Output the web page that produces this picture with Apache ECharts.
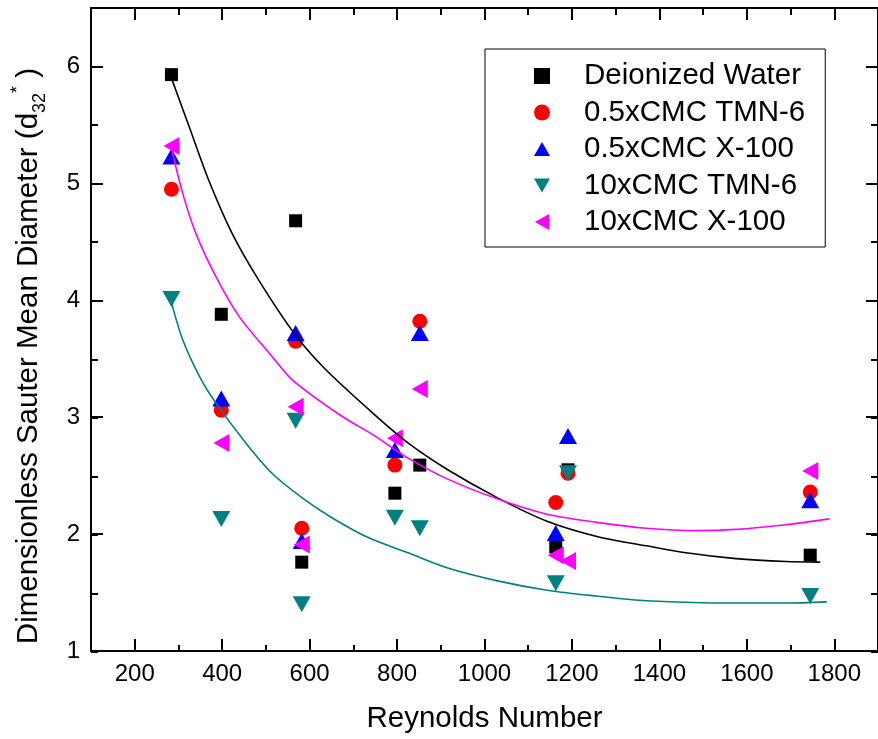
<!DOCTYPE html>
<html>
<head>
<meta charset="utf-8">
<script src="https://cdn.jsdelivr.net/npm/echarts@6/dist/echarts.min.js"></script>
<style>
  html, body { margin: 0; padding: 0; background: #fff; }
  #chart { width: 878px; height: 739px; }
</style>
</head>
<body>
<div id="chart"></div>
<script>
// ---------- data ----------
const reynolds = [284, 398, 568, 582, 795, 852, 1163, 1191, 1745];
const deionizedWater = [5.93, 3.88, 4.68, 1.76, 2.35, 2.59, 1.89, 2.55, 1.82];
const tmn6Half = [4.95, 3.06, 3.65, 2.05, 2.59, 3.82, 2.27, 2.52, 2.36];
const x100Half = [5.23, 3.16, 3.72, 1.94, 2.72, 3.72, 2.01, 2.84, 2.29];
const tmn6Ten = [4.01, 2.13, 2.97, 1.40, 2.14, 2.05, 1.58, 2.52, 1.47];
const x100Ten = [5.32, 2.78, 3.09, 1.91, 2.82, 3.24, 1.82, 1.77, 2.54];

const seriesNames = ['Deionized Water', '0.5xCMC TMN-6', '0.5xCMC X-100', '10xCMC TMN-6', '10xCMC X-100'];

// fitted curves
const blackFitX = [284, 325, 370, 423, 484, 568, 636, 749, 825, 916, 1030, 1143, 1257, 1370, 1461, 1575, 1689, 1768];
const blackFitY = [5.90, 5.48, 5.02, 4.57, 4.17, 3.70, 3.41, 3.02, 2.78, 2.55, 2.31, 2.11, 1.98, 1.90, 1.84, 1.79, 1.765, 1.76];
const magentaFitX = [284, 310, 340, 386, 439, 514, 560, 673, 749, 825, 916, 1030, 1143, 1257, 1370, 1484, 1575, 1689, 1789];
const magentaFitY = [5.30, 4.91, 4.57, 4.20, 3.86, 3.52, 3.32, 3.01, 2.84, 2.65, 2.47, 2.30, 2.17, 2.10, 2.05, 2.03, 2.04, 2.08, 2.13];
const tealFitX = [284, 310, 348, 386, 454, 514, 583, 651, 734, 825, 916, 1030, 1143, 1257, 1370, 1575, 1689, 1783];
const tealFitY = [3.98, 3.66, 3.35, 3.12, 2.78, 2.52, 2.31, 2.14, 1.97, 1.84, 1.71, 1.60, 1.52, 1.47, 1.43, 1.41, 1.41, 1.42];

const xMajorTicks = [200, 400, 600, 800, 1000, 1200, 1400, 1600, 1800];
const xMinorTicks = [100, 300, 500, 700, 900, 1100, 1300, 1500, 1700, 1900];

// ---------- helpers ----------
const zip = (xs, ys) => xs.map((x, i) => [x, ys[i]]);
const FONT = '"Liberation Sans", Arial, Helvetica, sans-serif';
const axisLineStyle = { color: '#000', width: 2 };

const gridBox = { left: 91, top: 8, right: -5, bottom: 87 };

const chart = echarts.init(document.getElementById('chart'), null, { renderer: 'canvas' });

function scatter(idx, symbol, size, rotate, color, values) {
  return {
    name: seriesNames[idx], type: 'scatter', xAxisIndex: 0, yAxisIndex: 0,
    symbol: symbol, symbolSize: size, symbolRotate: rotate,
    itemStyle: { color: color, opacity: 1 },
    emphasis: { disabled: true },
    data: zip(reynolds, values), z: 2
  };
}
function fit(name, color, xs, ys) {
  return {
    name: name, type: 'line', xAxisIndex: 0, yAxisIndex: 0, showSymbol: false, symbol: 'none',
    smooth: 0.3,
    lineStyle: { color: color, width: 1.6 }, emphasis: { disabled: true },
    data: zip(xs, ys), z: 3
  };
}

const legendIcons = [
  'rect',
  'circle',
  'path://M9,0 L18,16 L0,16 Z',
  'path://M0,0 L18,0 L9,16 Z',
  'path://M0,9 L16,0 L16,18 Z'
];

const option = {
  backgroundColor: '#fff',
  animation: false,
  textStyle: { fontFamily: FONT },
  grid: [
    Object.assign({}, gridBox),
    Object.assign({}, gridBox)
  ],
  xAxis: [
    {
      gridIndex: 0, type: 'value', position: 'bottom', min: 100, max: 1900,
      name: 'Reynolds Number', nameLocation: 'middle', nameGap: 53,
      nameTextStyle: { fontFamily: FONT, fontSize: 29.5, color: '#000' },
      axisLine: { show: true, lineStyle: axisLineStyle },
      axisTick: { show: true, inside: true, length: 12, lineStyle: { color: '#000', width: 2 }, customValues: xMajorTicks },
      axisLabel: { show: true, fontFamily: FONT, fontSize: 24, color: '#000', margin: 11, customValues: xMajorTicks,
        formatter: v => String(v) },
      splitLine: { show: false }
    },
    {
      gridIndex: 0, type: 'value', position: 'top', min: 100, max: 1900,
      axisLine: { show: true, lineStyle: axisLineStyle },
      axisTick: { show: true, inside: true, length: 12, lineStyle: { color: '#000', width: 2 }, customValues: xMajorTicks },
      axisLabel: { show: false },
      splitLine: { show: false }
    },
    {
      gridIndex: 1, type: 'value', position: 'bottom', min: 100, max: 1900, interval: 100,
      axisLine: { show: false },
      axisTick: { show: true, inside: true, length: 7, lineStyle: { color: '#000', width: 2 }, customValues: xMinorTicks },
      axisLabel: { show: false },
      splitLine: { show: false }
    },
    {
      gridIndex: 1, type: 'value', position: 'top', min: 100, max: 1900, interval: 100,
      axisLine: { show: false },
      axisTick: { show: true, inside: true, length: 7, lineStyle: { color: '#000', width: 2 }, customValues: xMinorTicks },
      axisLabel: { show: false },
      splitLine: { show: false }
    }
  ],
  yAxis: [
    {
      gridIndex: 0, type: 'value', position: 'left', min: 1, max: 6.5, interval: 1,
      axisLine: { show: true, lineStyle: axisLineStyle },
      axisTick: { show: true, inside: true, length: 12, lineStyle: { color: '#000', width: 2 } },
      axisLabel: { show: true, fontFamily: FONT, fontSize: 24, color: '#000', margin: 11, showMaxLabel: false },
      splitLine: { show: false }
    },
    {
      gridIndex: 0, type: 'value', position: 'right', min: 1, max: 6.5, interval: 1,
      axisLine: { show: true, lineStyle: axisLineStyle },
      axisTick: { show: true, inside: true, length: 12, lineStyle: { color: '#000', width: 2 } },
      axisLabel: { show: false },
      splitLine: { show: false }
    },
    {
      gridIndex: 1, type: 'value', position: 'left', min: 1, max: 6.5, interval: 0.5,
      axisLine: { show: false },
      axisTick: { show: true, inside: true, length: 7, lineStyle: { color: '#000', width: 2 } },
      axisLabel: { show: false },
      splitLine: { show: false }
    },
    {
      gridIndex: 1, type: 'value', position: 'right', min: 1, max: 6.5, interval: 0.5,
      axisLine: { show: false },
      axisTick: { show: true, inside: true, length: 7, lineStyle: { color: '#000', width: 2 } },
      axisLabel: { show: false },
      splitLine: { show: false }
    }
  ],
  legend: {
    show: true,
    orient: 'vertical',
    left: 485, top: 49,
    padding: [12, 20, 10, 49],
    itemWidth: 16, itemHeight: 16, itemGap: 6.5,
    borderColor: '#000', borderWidth: 1, backgroundColor: '#fff',
    selectedMode: false,
    formatter: name => '{s|}' + name,
    textStyle: { fontFamily: FONT, fontSize: 29.5, color: '#000', lineHeight: 30,
      rich: { s: { width: 29 } } },
    data: seriesNames.map((n, i) => ({ name: n, icon: legendIcons[i] }))
  },
  graphic: [
    {
      type: 'text',
      x: 29, y: 356,
      rotation: Math.PI / 2,
      style: {
        text: 'Dimensionless Sauter Mean Diameter (d{sub|32}{sup|*}{m| )}',
        font: '29.5px ' + FONT,
        fill: '#000',
        align: 'center',
        verticalAlign: 'middle',
        lineHeight: 40,
        rich: {
          sub: { fontSize: 18, fontFamily: FONT, lineHeight: 18, verticalAlign: 'bottom', fill: '#000' },
          sup: { fontSize: 18, fontFamily: FONT, lineHeight: 18, verticalAlign: 'top', fill: '#000' },
          m: { fontSize: 29.5, fontFamily: FONT, lineHeight: 40, fill: '#000' }
        }
      }
    }
  ],
  series: [
    scatter(0, 'rect', 13, 0, '#000000', deionizedWater),
    scatter(1, 'circle', 15, 0, '#ff0000', tmn6Half),
    scatter(2, 'triangle', [18, 16], 0, '#0000ff', x100Half),
    scatter(3, 'triangle', [18, 16], 180, '#008080', tmn6Ten),
    scatter(4, 'triangle', [18, 16], 90, '#ff00ff', x100Ten),
    fit('fit-black', '#000000', blackFitX, blackFitY),
    fit('fit-magenta', '#ff00ff', magentaFitX, magentaFitY),
    fit('fit-teal', '#008080', tealFitX, tealFitY)
  ]
};

chart.setOption(option);
</script>
</body>
</html>
